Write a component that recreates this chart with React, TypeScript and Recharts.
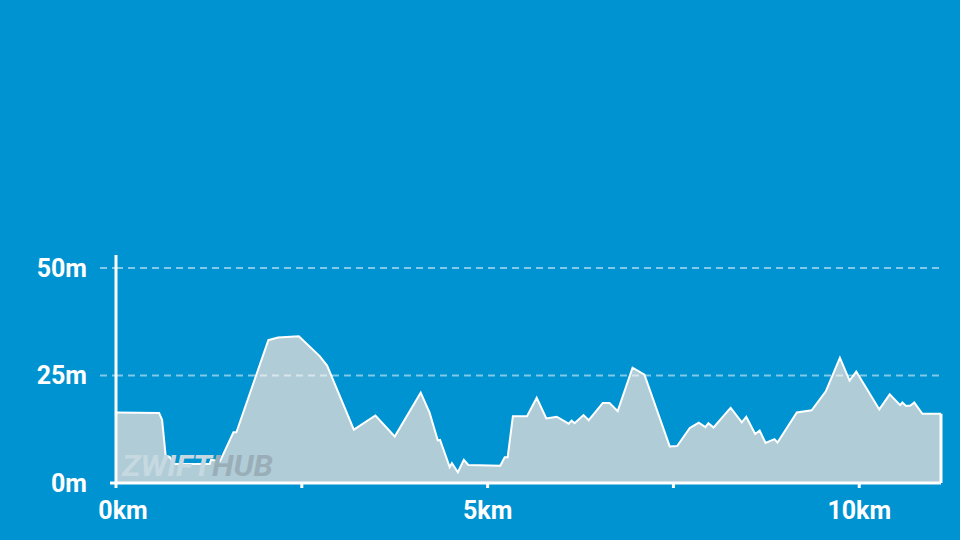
import { Area, AreaChart, ReferenceLine, XAxis, YAxis } from "recharts"

// distance along the route (km) and elevation (m)
const distanceKm = [
  0, 0.58, 0.62, 0.67, 0.72, 0.78, 1.26, 1.28, 1.4, 1.58, 1.62, 2.05, 2.18, 2.46, 2.74, 2.84,
  3.2, 3.49, 3.75, 4.1, 4.22, 4.33, 4.36, 4.49, 4.52, 4.6, 4.68, 4.74, 5.17, 5.23, 5.27, 5.34,
  5.53, 5.66, 5.79, 5.93, 6.09, 6.13, 6.17, 6.29, 6.36, 6.55, 6.64, 6.75, 6.95, 7.11, 7.45,
  7.55, 7.72, 7.84, 7.93, 7.97, 8.04, 8.27, 8.42, 8.48, 8.6, 8.66, 8.74, 8.86, 8.9, 9.16, 9.36,
  9.55, 9.74, 9.87, 9.96, 10.27, 10.41, 10.55, 10.58, 10.63, 10.69, 10.74, 10.85, 11.1,
]
const elevationM = [
  16.4, 16.3, 14.7, 6.0, 6.1, 4.4, 4.4, 5.4, 5.1, 11.8, 11.8, 33.2, 33.8, 34.1, 29.5, 27.3,
  12.4, 15.7, 10.8, 21.0, 16.3, 9.9, 10.0, 3.7, 4.6, 2.5, 5.4, 4.2, 4.0, 6.0, 6.0, 15.5,
  15.5, 19.8, 15.0, 15.4, 13.8, 14.5, 13.9, 15.8, 14.6, 18.6, 18.6, 16.7, 26.8, 25.2, 8.5,
  8.6, 12.8, 14.0, 13.0, 13.9, 12.9, 17.5, 14.1, 15.4, 11.4, 12.2, 9.3, 10.2, 9.4, 16.4, 16.9,
  21.3, 29.1, 23.8, 25.9, 17.1, 20.6, 18.1, 18.7, 17.9, 18.0, 18.7, 16.1, 16.1,
]
const xTicks = [0, 2.5, 5, 7.5, 10]
const yTicks = [0, 25, 50]

const data = distanceKm.map((km, i) => ({ km, elev: elevationM[i] }))
const lastKm = distanceKm[distanceKm.length - 1]
const lastElev = elevationM[elevationM.length - 1]

const BG = "#0093D1"
const FILL = "#B0CCD7"
const GRID = "rgba(255,255,255,0.5)"
const FONT = "Roboto, sans-serif"
const Y_TICK_SIZE = 16
const Y_TICK_MARGIN = 13

const YTick = (props: any) => {
  const { x, y, payload } = props
  const zero = payload.value === 0
  const axisX = x + Y_TICK_SIZE + Y_TICK_MARGIN
  return (
    <g>
      <line
        x1={zero ? axisX - 6 : x + Y_TICK_MARGIN}
        x2={axisX}
        y1={y}
        y2={y}
        stroke={zero ? "#fff" : GRID}
        strokeWidth={zero ? 3 : 2}
        strokeDasharray={zero ? undefined : "7 5"}
      />
      <text x={x} y={y} dy={9} textAnchor="end" fill="#fff" fontSize={25} fontWeight={700} fontFamily={FONT}>
        {payload.value}m
      </text>
    </g>
  )
}

const XTick = (props: any) => {
  const { x, y, payload, index } = props
  if (payload.value % 5 !== 0) return null
  return (
    <text x={x + (index === 0 ? 7 : 0)} y={y} dy={18} textAnchor="middle" fill="#fff" fontSize={25} fontWeight={700} fontFamily={FONT}>
      {payload.value}km
    </text>
  )
}

export default function App() {
  return (
    <div style={{ position: "absolute", left: 0, top: 0, width: 960, height: 540, background: BG, overflow: "hidden" }}>
      <AreaChart width={960} height={540} data={data} margin={{ top: 255, right: 19, left: 0, bottom: 0 }}>
        <XAxis
          type="number"
          dataKey="km"
          domain={[0, lastKm]}
          ticks={xTicks}
          height={57}
          axisLine={{ stroke: "#fff", strokeWidth: 3 }}
          tickLine={{ stroke: "#fff", strokeWidth: 3 }}
          tickSize={5}
          tickMargin={13}
          tick={<XTick />}
          interval={0}
        />
        <YAxis
          type="number"
          domain={[0, 53]}
          ticks={yTicks}
          width={116}
          axisLine={{ stroke: "#fff", strokeWidth: 3 }}
          tickLine={false}
          tickSize={Y_TICK_SIZE}
          tickMargin={Y_TICK_MARGIN}
          tick={<YTick />}
          interval={0}
        />
        {yTicks
          .filter((t) => t > 0)
          .map((t) => (
            <ReferenceLine key={t} y={t} stroke={GRID} strokeWidth={2} strokeDasharray="7 5" />
          ))}
        <Area
          type="linear"
          dataKey="elev"
          stroke="#fff"
          strokeWidth={2}
          fill={FILL}
          fillOpacity={1}
          isAnimationActive={false}
        />
        <ReferenceLine
          segment={[{ x: lastKm, y: 0 }, { x: lastKm, y: lastElev }]}
          stroke="#fff"
          strokeWidth={3}
        />
      </AreaChart>
      <svg width={200} height={40} style={{ position: "absolute", left: 118, top: 446 }}>
        <text x={4} y={30} fontSize={29} fontWeight={700} fontStyle="italic" fontFamily={FONT} textLength={151} lengthAdjust="spacingAndGlyphs">
          <tspan fill="#C6D9E1">ZWIFT</tspan>
          <tspan fill="#9AAEB8">HUB</tspan>
        </text>
      </svg>
    </div>
  )
}
